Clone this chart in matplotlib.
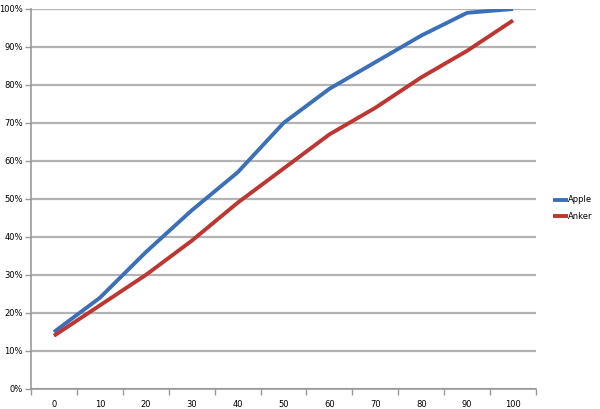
import matplotlib
matplotlib.use("Agg")
import matplotlib.pyplot as plt
from matplotlib.ticker import FixedLocator, NullFormatter, PercentFormatter

categories = ["0", "10", "20", "30", "40", "50", "60", "70", "80", "90", "100"]
apple = [15, 24, 36, 47, 57, 70, 79, 86, 93, 99, 100]
anker = [14, 22, 30, 39, 49, 58, 67, 74, 82, 89, 97]

fig = plt.figure(figsize=(6, 4.09), dpi=100)
ax = fig.add_axes([31 / 600, 20 / 409, 505 / 600, 380 / 409])

x = list(range(len(categories)))
ax.plot(x, apple, color="#3b70b8", lw=2.8, label="Apple", solid_capstyle="butt", zorder=3)
ax.plot(x, anker, color="#bd3631", lw=2.8, label="Anker", solid_capstyle="butt", zorder=3)

ax.set_xlim(-0.5, len(categories) - 0.5)
ax.set_ylim(0, 100)
ax.yaxis.set_major_locator(FixedLocator(range(0, 101, 10)))
ax.yaxis.set_major_formatter(PercentFormatter(decimals=0))
ax.grid(axis="y", color="#b3b3b3", lw=1.6)
ax.set_axisbelow(True)

ax.set_xticks(x)
ax.set_xticklabels(categories)
ax.xaxis.set_minor_locator(FixedLocator([i - 0.5 for i in range(len(categories) + 1)]))
ax.xaxis.set_minor_formatter(NullFormatter())
ax.tick_params(axis="x", which="major", length=0, labelsize=6, pad=8)
ax.tick_params(axis="x", which="minor", length=4, width=1, color="#999999", direction="out")
ax.tick_params(axis="y", length=4, width=1, color="#999999", labelsize=6, pad=2)

for s in ["top", "right"]:
    ax.spines[s].set_visible(False)
for s in ["left", "bottom"]:
    ax.spines[s].set_color("#999999")
    ax.spines[s].set_linewidth(1.2)

leg = fig.legend(loc="upper left", bbox_to_anchor=(545 / 600, 1 - 188 / 409), frameon=False,
                 fontsize=6, handlelength=1.8, handletextpad=0.1, labelspacing=0.9)

fig.savefig("out.png", dpi=100)
